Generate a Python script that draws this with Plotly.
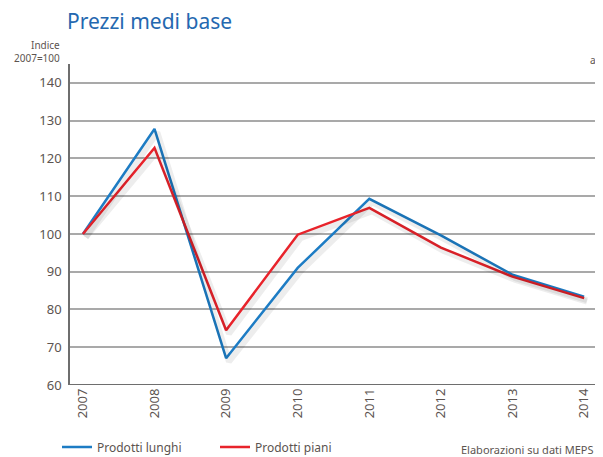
"""Prezzi medi base - line chart, index 2007=100."""

import plotly.graph_objects as go

years = [2007, 2008, 2009, 2010, 2011, 2012, 2013, 2014]
prodotti_lunghi = [100.0, 127.8, 67.1, 91.0, 109.3, 99.6, 89.2, 83.4]
prodotti_piani = [100.0, 122.8, 74.5, 99.8, 106.9, 96.4, 88.7, 83.0]
y_ticks = [60, 70, 80, 90, 100, 110, 120, 130, 140]

series = [
    ("Prodotti lunghi", prodotti_lunghi, "#1d7cc4"),
    ("Prodotti piani", prodotti_piani, "#e8232b"),
]

FONT = "Noto Sans"
GREY_TXT = "#5c5450"

# the page body has an 8px margin, so the figure is a bit smaller than the window
W, H = 595, 449
ML, MR, MT, MB = 62, 6, 56, 72
PW, PH = W - ML - MR, H - MT - MB


def px_to_paper(fx, fy):
    """Figure pixel position -> paper coords (for annotations)."""
    return (fx - ML) / PW, (H - MB - fy) / PH


X_RANGE = [2006.82, 2014.18]
Y_RANGE = [60, 145]

fig = go.Figure()

# soft drop shadow: same data on a slightly shifted overlay axis
for name, vals, _ in series:
    fig.add_trace(go.Scatter(
        x=years, y=vals, mode="lines", xaxis="x2", yaxis="y2",
        line=dict(color="rgba(0,0,0,0.07)", width=6),
        showlegend=False, hoverinfo="skip",
    ))

for name, vals, color in series:
    fig.add_trace(go.Scatter(
        x=years, y=vals, mode="lines", name=name,
        line=dict(color=color, width=2.5),
    ))

fig.update_layout(
    width=W,
    height=H,
    margin=dict(l=ML, r=MR, t=MT, b=MB),
    paper_bgcolor="white",
    plot_bgcolor="white",
    font=dict(family=FONT, color=GREY_TXT, size=13),
    title=dict(
        text="Prezzi medi base",
        font=dict(family=FONT, size=21, color="#2468b0"),
        xref="container", x=59 / W, xanchor="left",
        yref="container", y=1 - 14 / H, yanchor="middle",
    ),
    xaxis=dict(
        range=X_RANGE, tickvals=years, ticktext=[str(y) for y in years],
        tickangle=-90, showgrid=False, zeroline=False, showline=False,
        ticks="", tickfont=dict(size=13, color=GREY_TXT), automargin=False,
    ),
    yaxis=dict(
        range=Y_RANGE, tickvals=y_ticks,
        showgrid=True, gridcolor="#a9a9a9", gridwidth=1.6,
        zeroline=False, showline=True, linecolor="#6e6e6e", linewidth=1.6,
        ticks="", tickfont=dict(size=13, color=GREY_TXT), automargin=False,
        ticklabelstandoff=4,
    ),
    xaxis2=dict(
        range=[X_RANGE[0] - 0.04, X_RANGE[1] - 0.04], overlaying="x",
        visible=False,
    ),
    yaxis2=dict(
        range=[Y_RANGE[0] + 0.9, Y_RANGE[1] + 0.9], overlaying="y",
        visible=False,
    ),
    legend=dict(
        orientation="h", xref="container", x=49 / W, xanchor="left",
        yref="container", y=1 - 439 / H, yanchor="middle",
        entrywidth=113, entrywidthmode="pixels",
        font=dict(size=12, color=GREY_TXT), itemwidth=30,
    ),
    showlegend=True,
)

# darker baseline at 60
fig.add_shape(type="line", xref="paper", yref="y", x0=0, x1=1, y0=60, y1=60,
              line=dict(color="#6e6e6e", width=1.8))

ax, ay = px_to_paper(54, 43)
fig.add_annotation(
    text="Indice<br>2007=100", xref="paper", yref="paper",
    x=ax, y=ay, xanchor="right", yanchor="middle", align="right",
    showarrow=False, font=dict(size=10, color=GREY_TXT),
)
ax, ay = px_to_paper(590, 52)
fig.add_annotation(
    text="a", xref="paper", yref="paper",
    x=ax, y=ay, xanchor="right", yanchor="middle",
    showarrow=False, font=dict(size=10, color=GREY_TXT),
)
ax, ay = px_to_paper(588, 441)
fig.add_annotation(
    text="Elaborazioni su dati MEPS", xref="paper", yref="paper",
    x=ax, y=ay, xanchor="right", yanchor="middle",
    showarrow=False, font=dict(size=11, color=GREY_TXT),
)

fig.write_html("out.html")
